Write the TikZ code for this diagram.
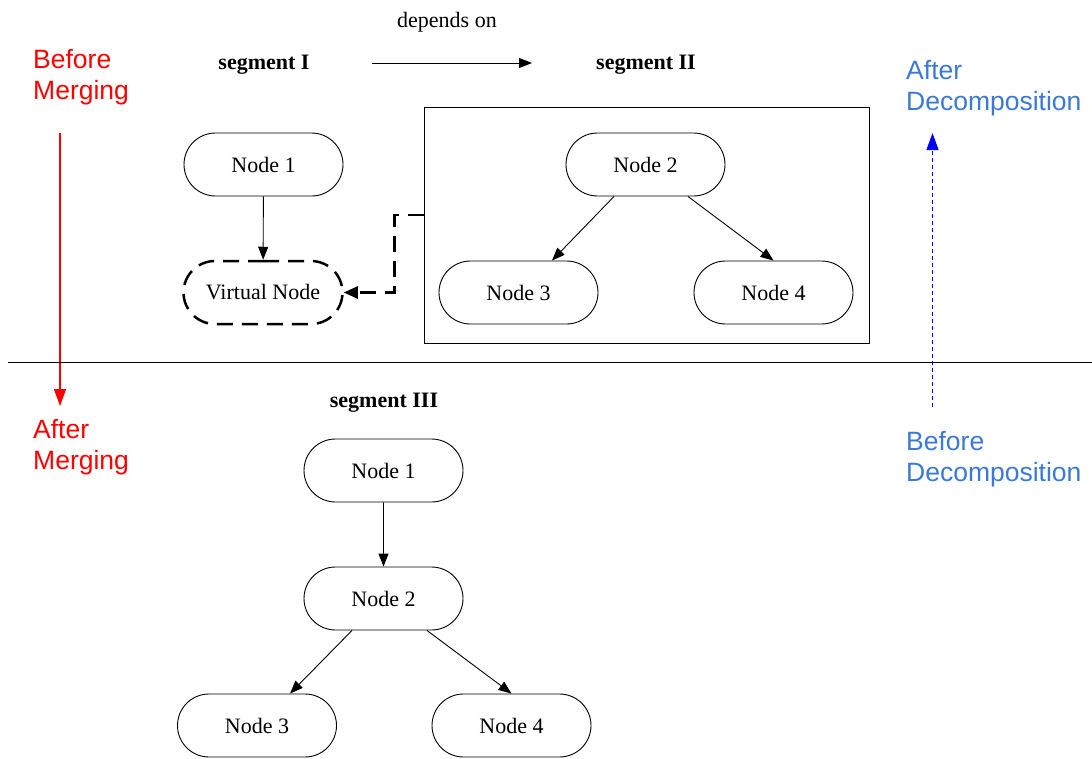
\documentclass[tikz,border=0pt]{standalone}
\usepackage{fontspec}
\setmainfont{Liberation Serif}
\newfontfamily\labelfont{Liberation Sans}
\usetikzlibrary{shapes.misc,arrows.meta}
\definecolor{decblue}{RGB}{58,122,214}

\begin{document}
\begin{tikzpicture}[x=1pt,y=-1pt,
  every node/.style={font=\fontsize{22}{26}\selectfont},
  pill/.style={draw, rounded rectangle, minimum width=159pt, minimum height=63pt, inner sep=0pt, line width=0.9pt},
  virt/.style={pill, dash pattern=on 16pt off 9pt, line width=2.5pt},
  seg/.style={font=\fontsize{22}{26}\selectfont\bfseries, anchor=base},
  link/.style={-{Triangle[length=13pt,width=10pt]}, line width=0.9pt},
  side/.style={font=\labelfont\fontsize{26.5}{31.5}\selectfont, align=left, anchor=north west, inner sep=0pt},
]
\useasboundingbox (0,0) rectangle (1092,758);

% side labels
\node[side, red] (bm) at (33,49) {Before\\Merging};
\node[side, red] (am) at (33,419) {After\\Merging};
\node[side, decblue] (ad) at (906,60) {After\\Decomposition};
\node[side, decblue] (bd) at (906,431) {Before\\Decomposition};

\coordinate (mergeFrom) at (60,133);
\coordinate (mergeTo) at (60,406);
\coordinate (decFrom) at (932.5,407);
\coordinate (decTo) at (932.5,133);
\draw[red, line width=1.2pt, -{Triangle[length=17pt,width=12pt]}] (mergeFrom) -- (mergeTo);
\draw[blue, line width=1.1pt, dash pattern=on 4pt off 3pt, -{Triangle[length=17pt,width=12pt]}] (decFrom) -- (decTo);

% separator
\draw[line width=0.9pt] (8,362) -- (1092,362);

% upper part: segments I and II
\node[seg] (s1) at (264,69) {segment I};
\node[seg] (s2) at (646,69) {segment II};
\node[anchor=base] (dep) at (447,27) {depends on};
\coordinate (depFrom) at (372,63);
\coordinate (depTo) at (532,63);
\draw[link] (depFrom) -- (depTo);

\node[pill] (n1) at (263.5,164.5) {Node 1};
\node[virt] (vn) at (263,292.5) {Virtual Node};
\draw[link] (n1) -- (vn);

\node[draw, minimum width=445pt, minimum height=236pt, inner sep=0pt, line width=0.9pt] (box) at (646.5,225) {};
\node[pill] (n2) at (645.5,164.5) {Node 2};
\node[pill] (n3) at (518.5,292.5) {Node 3};
\node[pill] (n4) at (773.5,292.5) {Node 4};
\draw[link] ([xshift=-31.5pt]n2.south) -- ([xshift=33.5pt]n3.north);
\draw[link] ([xshift=42.5pt]n2.south) -- (n4.north);

\draw[line width=2.5pt, dash pattern=on 16pt off 9pt, -{Triangle[length=14pt,width=12pt]}]
  ([yshift=10pt]box.west) -- ++(-29,0) |- (vn.east);

% lower part: merged segment III
\node[seg] (s3) at (384,407) {segment III};
\node[pill] (b1) at (383.5,470.5) {Node 1};
\node[pill] (b2) at (383.5,598.5) {Node 2};
\node[pill] (b3) at (257,725.5) {Node 3};
\node[pill] (b4) at (511.5,725.5) {Node 4};
\draw[link] (b1) -- (b2);
\draw[link] ([xshift=-31.5pt]b2.south) -- ([xshift=33pt]b3.north);
\draw[link] ([xshift=43.5pt]b2.south) -- (b4.north);
\end{tikzpicture}
\end{document}
